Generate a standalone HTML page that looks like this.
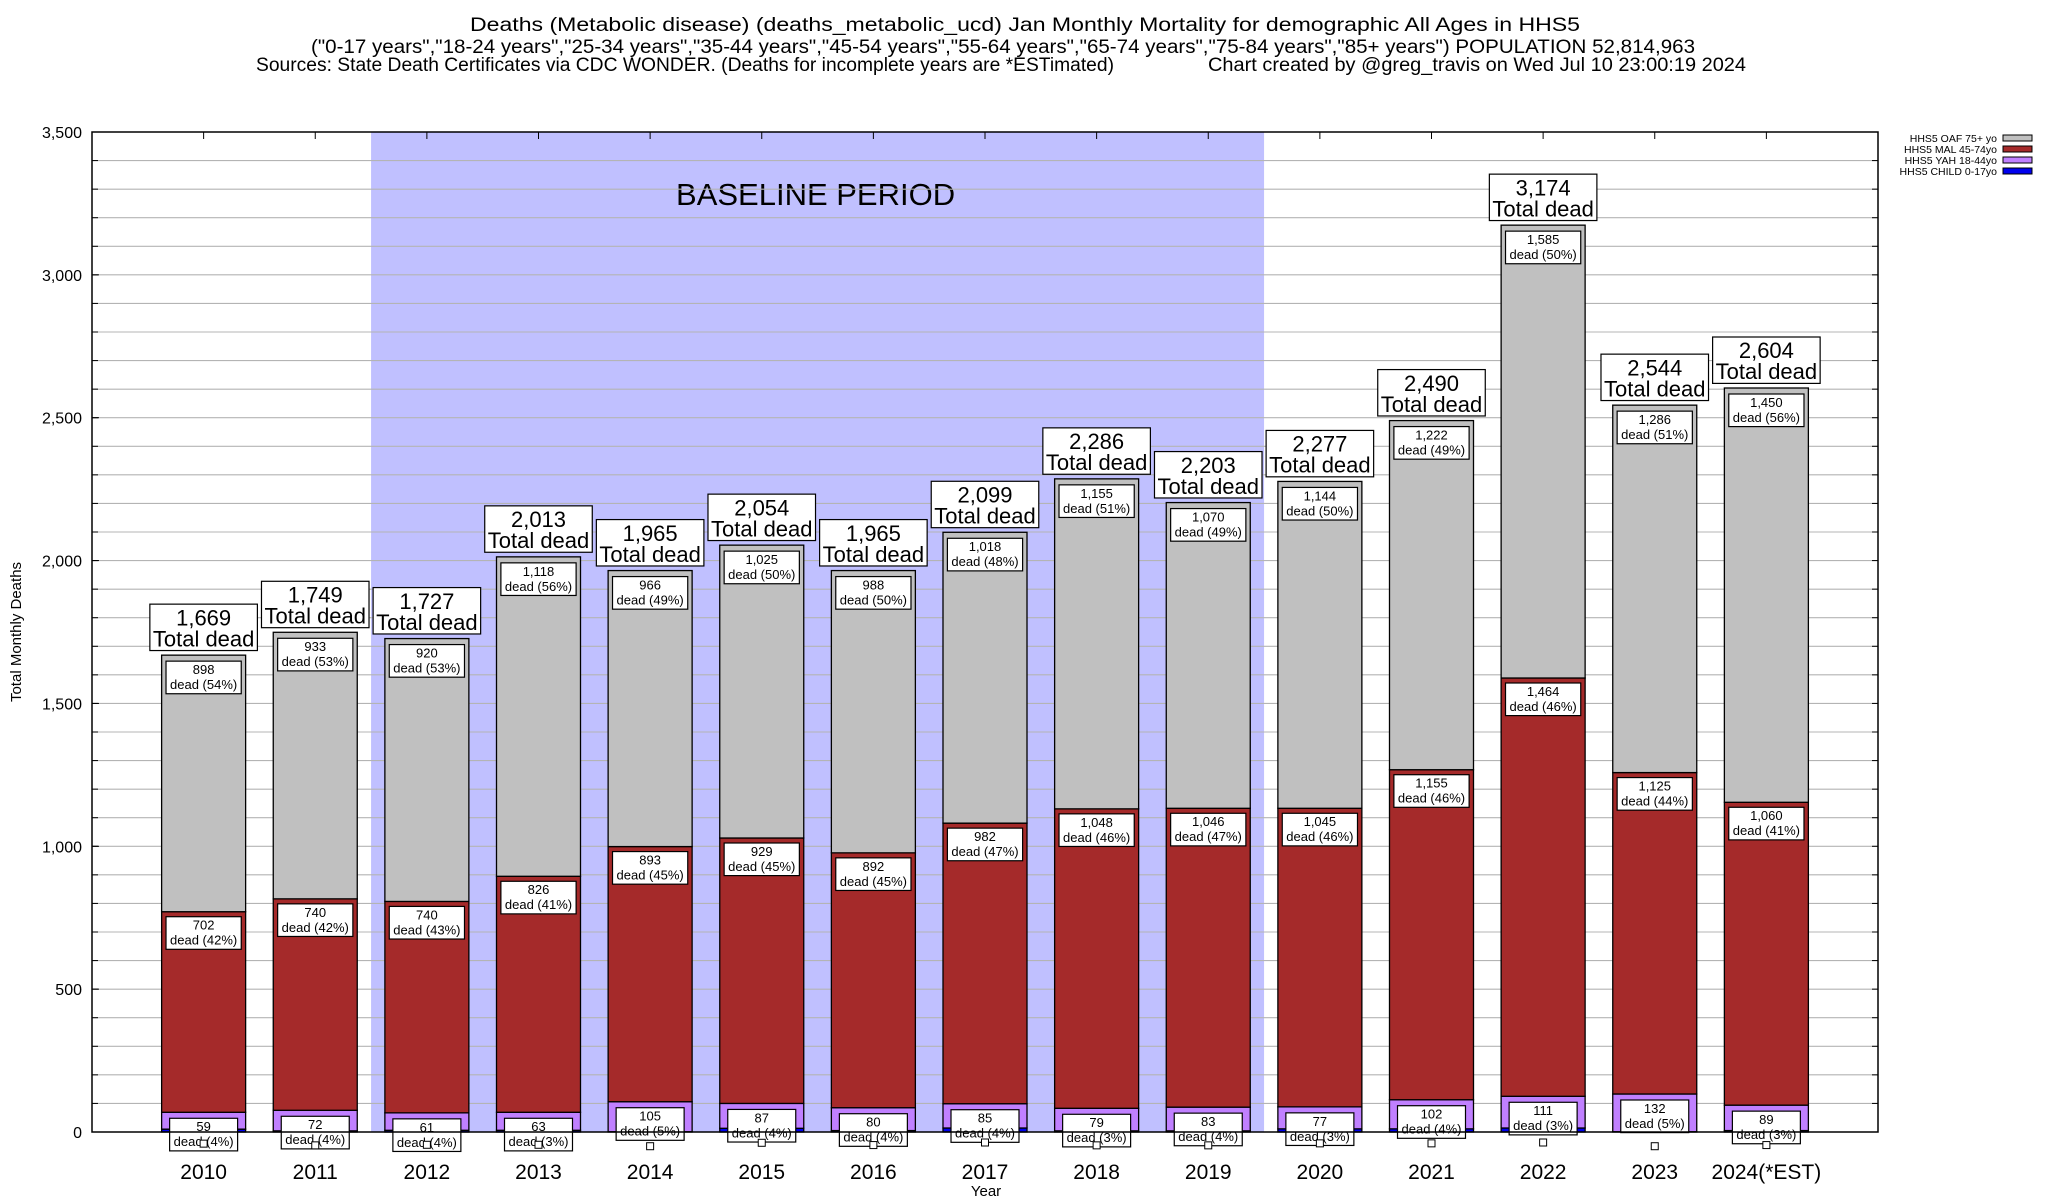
<!DOCTYPE html>
<html><head><meta charset="utf-8">
<style>
html,body{margin:0;padding:0;background:#fff;}
svg{display:block;font-family:"Liberation Sans",Arial,sans-serif;}
</style></head>
<body>
<svg id="chart" xmlns="http://www.w3.org/2000/svg" width="2048" height="1200" viewBox="0 0 2048 1200">
<g>
<text x="1025" y="31" text-anchor="middle" font-size="19" textLength="1110" lengthAdjust="spacingAndGlyphs">Deaths (Metabolic disease) (deaths_metabolic_ucd) Jan Monthly Mortality for demographic All Ages in HHS5</text>
<text x="1003" y="53" text-anchor="middle" font-size="19" textLength="1384" lengthAdjust="spacingAndGlyphs">("0-17 years","18-24 years","25-34 years","35-44 years","45-54 years","55-64 years","65-74 years","75-84 years","85+ years") POPULATION 52,814,963</text>
<text x="256" y="71" font-size="19" textLength="858" lengthAdjust="spacingAndGlyphs">Sources: State Death Certificates via CDC WONDER. (Deaths for incomplete years are *ESTimated)</text>
<text x="1208" y="71" font-size="19" textLength="538" lengthAdjust="spacingAndGlyphs">Chart created by @greg_travis on Wed Jul 10 23:00:19 2024</text>
</g>
<g id="plot"></g>
</svg>
<script>
const years = ["2010","2011","2012","2013","2014","2015","2016","2017","2018","2019","2020","2021","2022","2023","2024(*EST)"];
const totals = [1669,1749,1727,2013,1965,2054,1965,2099,2286,2203,2277,2490,3174,2544,2604];
const oaf = [898,933,920,1118,966,1025,988,1018,1155,1070,1144,1222,1585,1286,1450];
const mal = [702,740,740,826,893,929,892,982,1048,1046,1045,1155,1464,1125,1060];
const yah = [59,72,61,63,105,87,80,85,79,83,77,102,111,132,89];
const child = [10,4,6,6,1,13,5,14,4,4,11,11,14,1,5];
const oafPct = [54,53,53,56,49,50,50,48,51,49,50,49,50,51,56];
const malPct = [42,42,43,41,45,45,45,47,46,47,46,46,46,44,41];
const yahPct = [4,4,4,3,5,4,4,4,3,4,3,4,3,5,3];
const yTicks = [0,500,1000,1500,2000,2500,3000,3500];
const baseline = [2012,2019];

const L=92,R=1878,T=132,B=1132,YMAX=3500;
const NS="http://www.w3.org/2000/svg";
const g=document.getElementById('plot');
function xs(i){return L+(R-L)*(i+1)/16;}
function ys(v){return B-(B-T)*v/YMAX;}
function el(tag,attrs,parent){const e=document.createElementNS(NS,tag);for(const k in attrs)e.setAttribute(k,attrs[k]);(parent||g).appendChild(e);return e;}
function fmt(v){return v.toLocaleString('en-US');}
const BW=84;

const bi0=years.indexOf(String(baseline[0])), bi1=years.indexOf(String(baseline[1]));
const sh=el('rect',{x:xs(bi0-0.5),y:T,width:xs(bi1+0.5)-xs(bi0-0.5),height:B-T,fill:'#c0c0ff'});


const bt=el('text',{x:(xs(bi0-0.5)+xs(bi1+0.5))/2-2,y:205,'text-anchor':'middle','font-size':'31'});
bt.textContent='BASELINE PERIOD';



for(let v=100;v<YMAX;v+=100){
  const gl=el('line',{x1:L,x2:R,y1:ys(v),y2:ys(v),stroke:'#b4b4b4','stroke-width':1.1});
  
  
  el('line',{x1:L,x2:L+6,y1:ys(v),y2:ys(v),stroke:'#000'});
  el('line',{x1:R-6,x2:R,y1:ys(v),y2:ys(v),stroke:'#000'});
}
yTicks.forEach(v=>{
  el('line',{x1:L,x2:L+7,y1:ys(v),y2:ys(v),stroke:'#000'});
  const t=el('text',{x:82,y:ys(v)+6,'text-anchor':'end','font-size':'16'});
  t.textContent=fmt(v);
  
  
});

function labelBox(cx,top,lines,fs,lh,pad,name){
  const grp=el('g',{});
  
  
  const r=el('rect',{fill:'#fff',stroke:'#000','stroke-width':1.2},grp);
  let w=0;
  lines.forEach((s,k)=>{const t=el('text',{x:cx,y:top+fs*0.92+k*lh,'text-anchor':'middle','font-size':fs},grp);t.textContent=s;w=Math.max(w,t.getComputedTextLength());});
  r.setAttribute('x',cx-w/2-pad);r.setAttribute('width',w+2*pad);
  r.setAttribute('y',top-1);r.setAttribute('height',lines.length*lh+fs*0.2);
  return grp;
}

years.forEach((yr,i)=>{
  const cx=xs(i), x0=cx-BW/2;
  const segs=[[child[i],'#0000ee','child'],[yah[i],'#c080ff','yah'],[mal[i],'#a52a2a','mal'],[oaf[i],'#c0c0c0','oaf']];
  let acc=0;const tops=[];
  segs.forEach(s=>{
    const y1=ys(acc), y2=ys(acc+s[0]);
    const r=el('rect',{x:x0,y:y2,width:BW,height:y1-y2,fill:s[1],stroke:'#000','stroke-width':1.3});
    
    
    tops.push(y2);acc+=s[0];
  });
  labelBox(cx,tops[3]+7,[fmt(oaf[i]),'dead ('+oafPct[i]+'%)'],13,15,4,'label-oaf-'+yr);
  labelBox(cx,tops[2]+6,[fmt(mal[i]),'dead ('+malPct[i]+'%)'],13,15,4,'label-mal-'+yr);
  labelBox(cx,tops[1]+7,[fmt(yah[i]),'dead ('+yahPct[i]+'%)'],13,15,4,'label-yah-'+yr);
  const sq=el('rect',{x:cx-3.5,y:tops[0]+11,width:7,height:7,fill:'#fff',stroke:'#000'});
  
  
  labelBox(cx,ys(totals[i])-50,[fmt(totals[i]),'Total dead'],22,21,3,'label-total-'+yr);
  const t=el('text',{x:cx,y:1179,'text-anchor':'middle','font-size':'21'});
  t.textContent=yr;
  
  
  el('line',{x1:cx,x2:cx,y1:T,y2:T+7,stroke:'#000'});
});

const fr=el('rect',{x:L,y:T,width:R-L,height:B-T,fill:'none',stroke:'#000','stroke-width':1.5});



const xt=el('text',{x:986,y:1196,'text-anchor':'middle','font-size':'15'});
xt.textContent='Year';


const yt=el('text',{x:0,y:0,'text-anchor':'middle','font-size':'15',transform:'translate(21,632) rotate(-90)'});
yt.textContent='Total Monthly Deaths';



const legNames=['HHS5 OAF 75+ yo','HHS5 MAL 45-74yo','HHS5 YAH 18-44yo','HHS5 CHILD 0-17yo'];
const legCols=['#c0c0c0','#a52a2a','#c080ff','#0000ee'];
legNames.forEach((n,k)=>{
  const grp=el('g',{});
  
  
  const y=138+k*11;
  const t=el('text',{x:1997,y:y+4,'text-anchor':'end','font-size':'10.5'},grp);t.textContent=n;
  el('rect',{x:2003,y:y-3,width:29,height:6,fill:legCols[k],stroke:'#000'},grp);
});
</script>
</body></html>
